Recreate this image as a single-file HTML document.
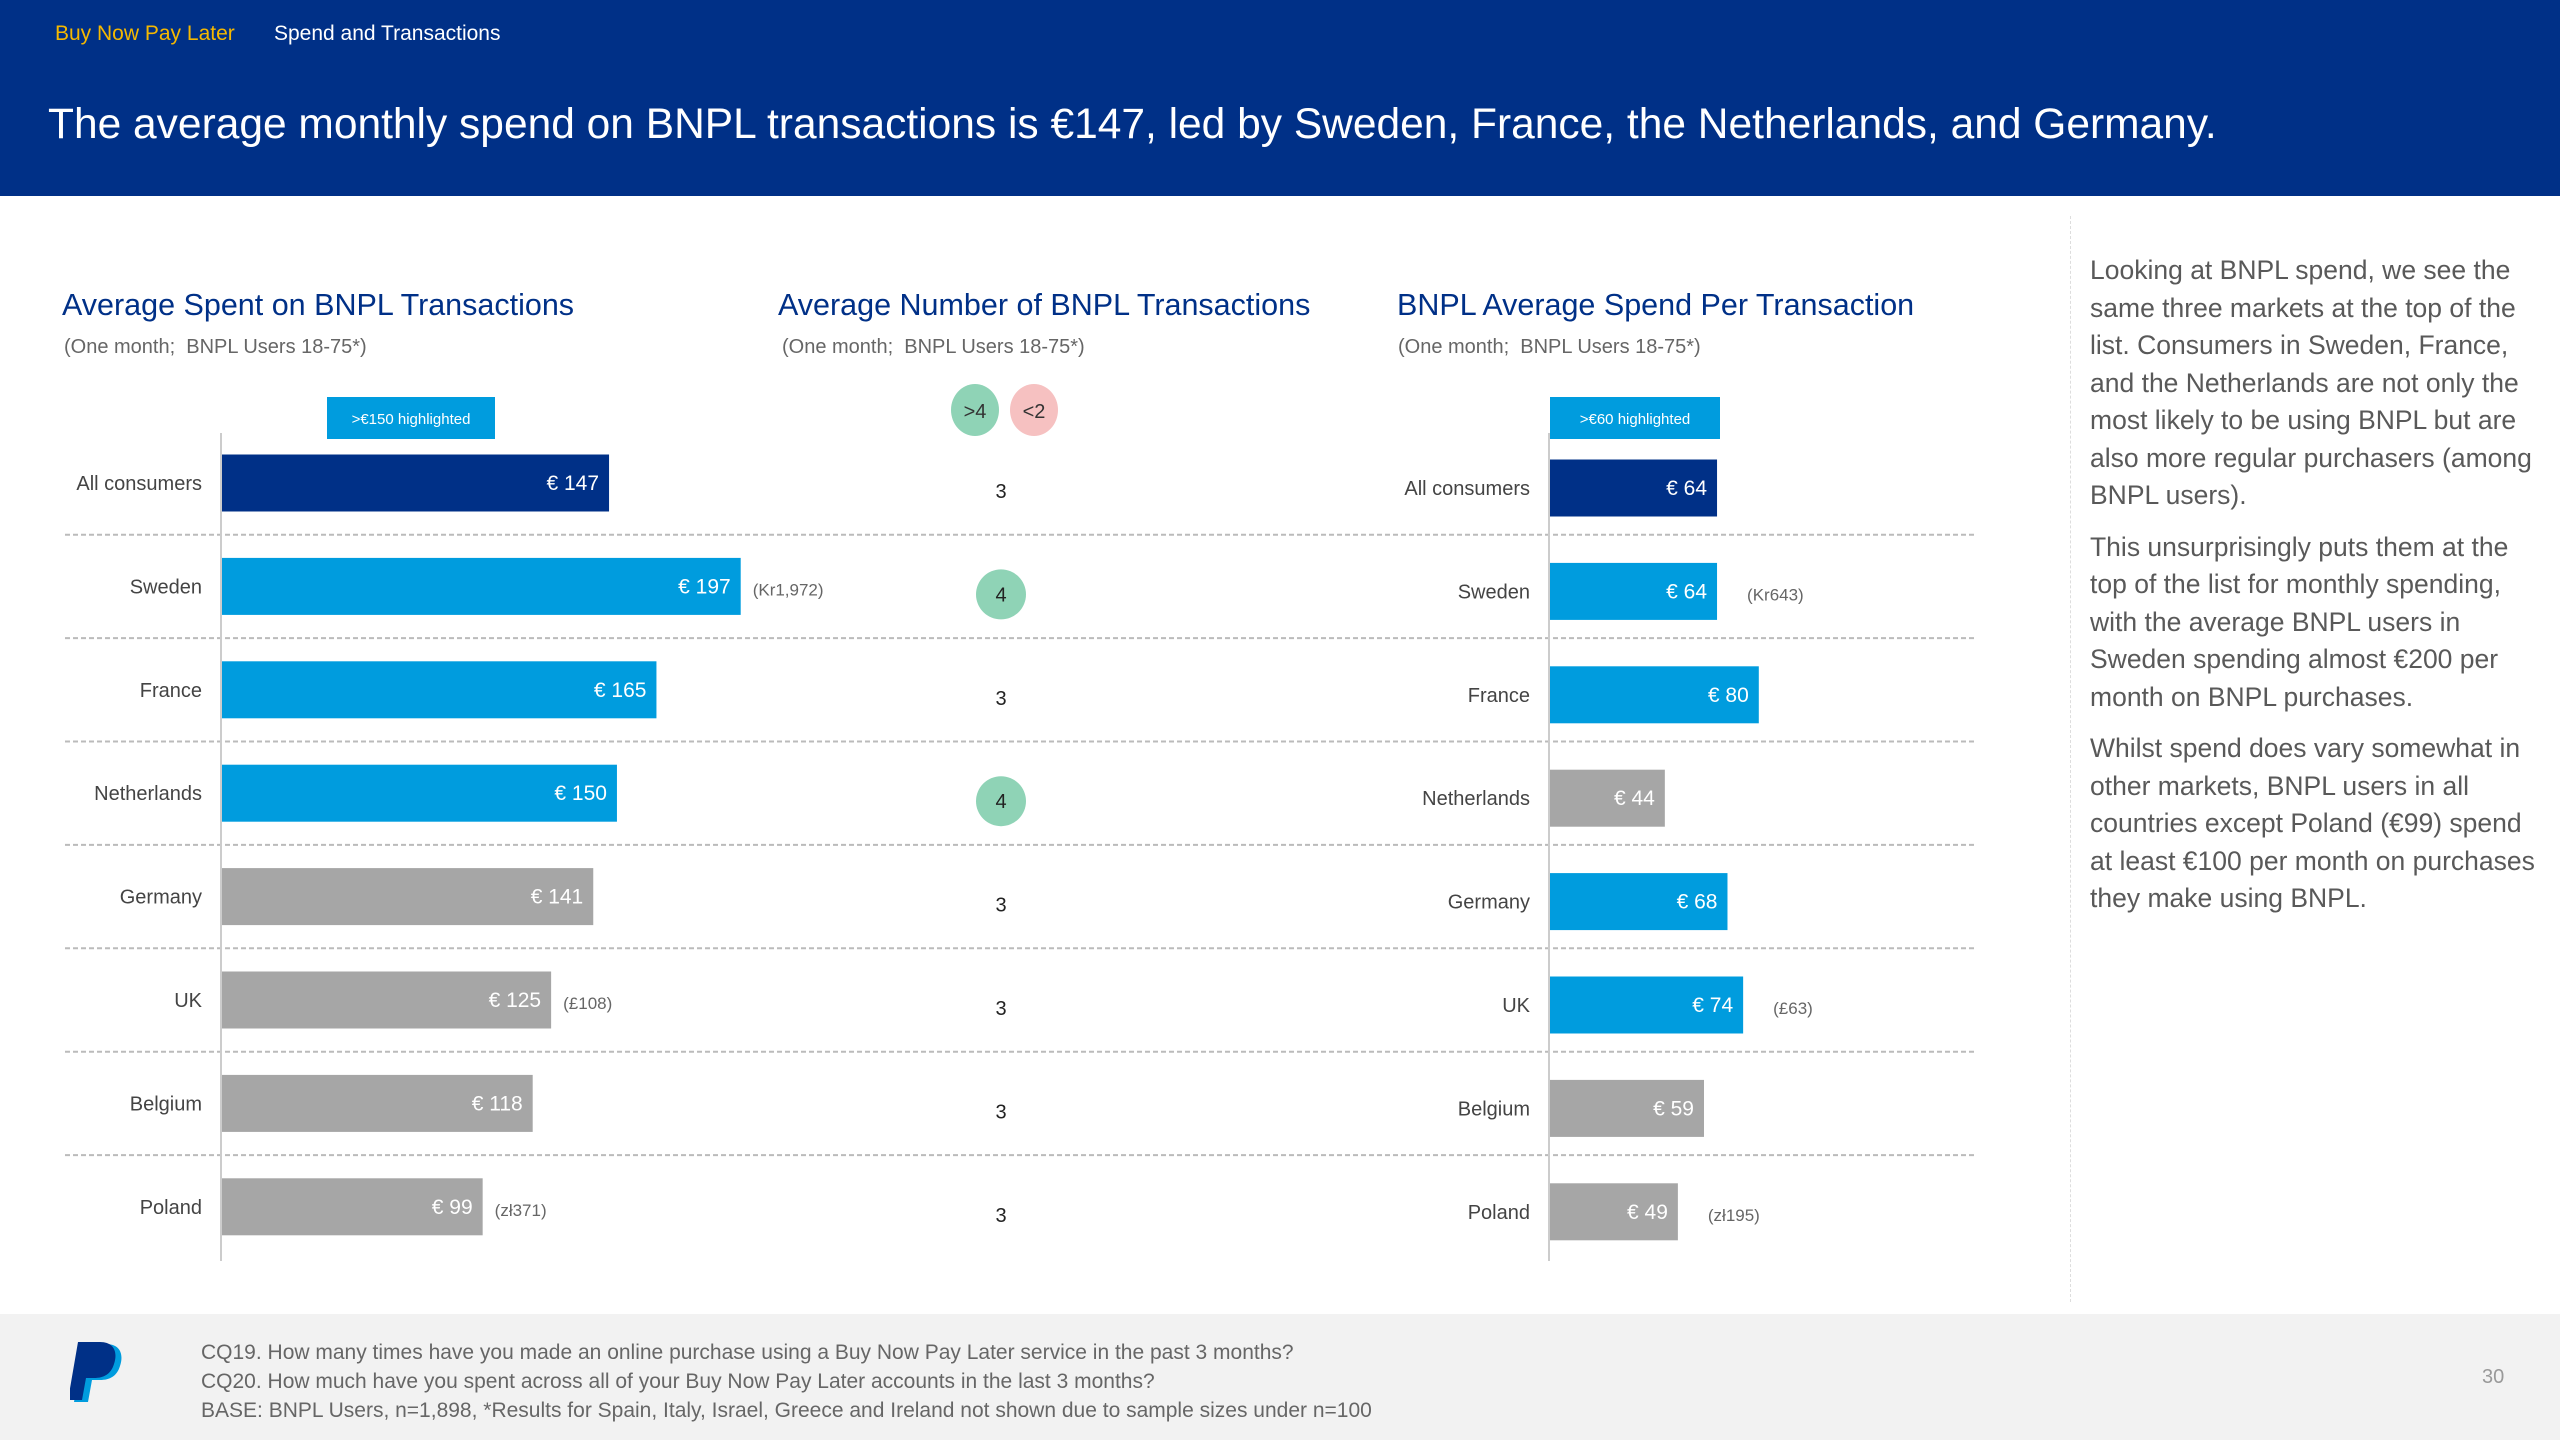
<!DOCTYPE html>
<html><head><meta charset="utf-8">
<style>
body{margin:0;width:2560px;height:1440px;position:relative;overflow:hidden;background:#fff;font-family:"Liberation Sans",sans-serif;}
.abs{position:absolute;}
#header{left:0;top:0;width:2560px;height:196px;background:#003087;}
#footer{left:0;top:1314px;width:2560px;height:126px;background:#f2f2f2;}
.side p{margin:0 0 14px 0;}
</style></head>
<body>
<div id="header" class="abs">
  <div class="abs" style="left:55px;top:22px;font-size:21px;color:#f5b800">Buy Now Pay Later</div>
  <div class="abs" style="left:274px;top:22px;font-size:21px;color:#fff">Spend and Transactions</div>
  <div class="abs" style="left:48px;top:101px;font-size:42.5px;color:#fff;white-space:nowrap">The average monthly spend on BNPL transactions is €147, led by Sweden, France, the Netherlands, and Germany.</div>
</div>

<div class="abs" style="left:62px;top:288px;font-size:30.5px;color:#003087">Average Spent on BNPL Transactions</div>
<div class="abs" style="left:64px;top:336px;font-size:20px;color:#666">(One month;&nbsp; BNPL Users 18-75*)</div>
<div class="abs" style="left:778px;top:288px;font-size:30.5px;color:#003087">Average Number of BNPL Transactions</div>
<div class="abs" style="left:782px;top:336px;font-size:20px;color:#666">(One month;&nbsp; BNPL Users 18-75*)</div>
<div class="abs" style="left:1397px;top:288px;font-size:30.5px;color:#003087">BNPL Average Spend Per Transaction</div>
<div class="abs" style="left:1398px;top:336px;font-size:20px;color:#666">(One month;&nbsp; BNPL Users 18-75*)</div>

<svg id="chart" class="abs" style="left:0;top:0" width="2560" height="1440"></svg>

<div class="abs" style="left:2070px;top:216px;width:2px;height:1086px;border-left:1px dashed #ddd"></div>
<div class="abs side" style="left:2090px;top:252px;width:455px;font-size:26.5px;line-height:37.5px;color:#595959">
<p>Looking at BNPL spend, we see the same three markets at the top of the list. Consumers in Sweden, France, and the Netherlands are not only the most likely to be using BNPL but are also more regular purchasers (among BNPL users).</p>
<p>This unsurprisingly puts them at the top of the list for monthly spending, with the average BNPL users in Sweden spending almost €200 per month on BNPL purchases.</p>
<p>Whilst spend does vary somewhat in other markets, BNPL users in all countries except Poland (€99) spend at least €100 per month on purchases they make using BNPL.</p>
</div>

<div id="footer" class="abs">
  <svg class="abs" style="left:70px;top:28px" width="60" height="64">
    <path d="M14 2 h22 c14 0 18 10 14 22 c-3 10 -10 14 -20 14 h-8 l-4 22 h-14 z" fill="#009cde"/>
    <path d="M8 0 h22 c14 0 18 10 14 22 c-3 10 -10 14 -20 14 h-8 l-4 22 h-14 z" fill="#003087"/>
  </svg>
  <div class="abs" style="left:201px;top:24px;font-size:21px;line-height:29px;color:#666">CQ19. How many times have you made an online purchase using a Buy Now Pay Later service in the past 3 months?<br>CQ20. How much have you spent across all of your Buy Now Pay Later accounts in the last 3 months?<br>BASE: BNPL Users, n=1,898, *Results for Spain, Italy, Israel, Greece and Ireland not shown due to sample sizes under n=100</div>
  <div class="abs" style="left:2482px;top:52px;font-size:20px;color:#999">30</div>
</div>

<script>
const categories = ["All consumers","Sweden","France","Netherlands","Germany","UK","Belgium","Poland"];
const spendValues = [147,197,165,150,141,125,118,99];
const spendLocal = ["","(Kr1,972)","","","","(£108)","","(zł371)"];
const txnCounts = [3,4,3,4,3,3,3,3];
const perTxnValues = [64,64,80,44,68,74,59,49];
const perTxnLocal = ["","(Kr643)","","","","(£63)","","(zł195)"];

const NS="http://www.w3.org/2000/svg";
const svg=document.getElementById('chart');
function mk(tag,attrs,parent){const e=document.createElementNS(NS,tag);for(const k in attrs)e.setAttribute(k,attrs[k]);(parent||svg).appendChild(e);return e;}
const rowY=i=>483+i*103.4;
const x1=v=>222+v*2.633;
const x3=v=>1550+v*2.61;
const F='"Liberation Sans",sans-serif';

for(let i=0;i<categories.length-1;i++){
  const l=mk('line',{x1:65,x2:1976,y1:rowY(i)+51.7,y2:rowY(i)+51.7,stroke:'#bbb','stroke-width':2,'stroke-dasharray':'5,3'});
  
  
}
let a=mk('line',{x1:221,x2:221,y1:433,y2:1261,stroke:'#ccc','stroke-width':2});

a=mk('line',{x1:1549,x2:1549,y1:433,y2:1261,stroke:'#ccc','stroke-width':2});


function badge(x,w,txt,name){
  const r=mk('rect',{x:x,y:397,width:w,height:42,fill:'#009cde'});
  
  const t=mk('text',{x:x+w/2,y:424,'text-anchor':'middle','font-size':15,fill:'#fff','font-family':F});t.textContent=txt;
}
badge(327,168,'>€150  highlighted','chart1-highlight-badge');
badge(1550,170,'>€60 highlighted','chart3-highlight-badge');
[[975,'#8fd3b6','>4'],[1034,'#f6c1c1','<2']].forEach(([cx,c,t])=>{
  const e=mk('ellipse',{cx:cx,cy:410,rx:24,ry:26,fill:c});
  
  const tt=mk('text',{x:cx,y:418,'text-anchor':'middle','font-size':20,fill:'#333','font-family':F});tt.textContent=t;
});

const bh=57;
categories.forEach((c,i)=>{
  const y=rowY(i);
  let t=mk('text',{x:202,y:y+7,'text-anchor':'end','font-size':20,fill:'#444','font-family':F});t.textContent=c;
  
  const v=spendValues[i];
  const col=i===0?'#003087':(v>=150?'#009cde':'#a6a6a6');
  const b=mk('rect',{x:222,y:y-bh/2,width:x1(v)-222,height:bh,fill:col});
  
  t=mk('text',{x:x1(v)-10,y:y+7,'text-anchor':'end','font-size':21,fill:'#fff','font-family':F});t.textContent='€ '+v;
  if(spendLocal[i]){t=mk('text',{x:x1(v)+12,y:y+9,'font-size':17,fill:'#666','font-family':F});t.textContent=spendLocal[i];}
  const n=txnCounts[i];
  if(n>=4){const e=mk('ellipse',{cx:1001,cy:y+8,rx:25,ry:25,fill:'#8fd3b6'});}
  if(n<2){const e=mk('ellipse',{cx:1001,cy:y+8,rx:25,ry:25,fill:'#f6c1c1'});}
  t=mk('text',{x:1001,y:y+15,'text-anchor':'middle','font-size':20,fill:'#222','font-family':F});t.textContent=n;
  
  const yy=y+5;
  t=mk('text',{x:1530,y:yy+7,'text-anchor':'end','font-size':20,fill:'#444','font-family':F});t.textContent=c;
  
  const p=perTxnValues[i];
  const col3=i===0?'#003087':(p>=60?'#009cde':'#a6a6a6');
  const b3=mk('rect',{x:1550,y:yy-bh/2,width:x3(p)-1550,height:bh,fill:col3});
  
  t=mk('text',{x:x3(p)-10,y:yy+7,'text-anchor':'end','font-size':21,fill:'#fff','font-family':F});t.textContent='€ '+p;
  if(perTxnLocal[i]){t=mk('text',{x:x3(p)+30,y:yy+9,'font-size':17,fill:'#666','font-family':F});t.textContent=perTxnLocal[i];}
});
</script>
</body></html>
